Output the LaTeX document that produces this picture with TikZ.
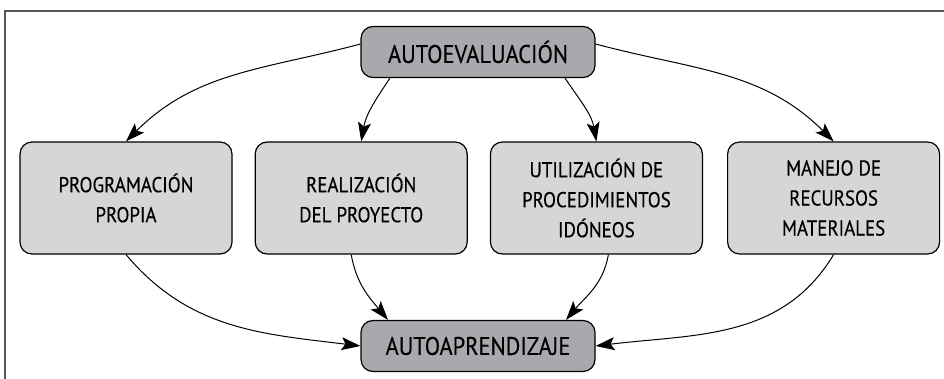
\documentclass[tikz,border=0pt]{standalone}
\usepackage{fontspec}
\setmainfont[FakeStretch=0.88, FakeBold=0.3]{PT Sans}
\usepackage{tikz}
\usetikzlibrary{positioning, arrows.meta}
\definecolor{darkgrey}{RGB}{167,169,172}
\definecolor{lightgrey}{RGB}{213,214,216}
\definecolor{framegrey}{RGB}{85,85,85}

\begin{document}
\begin{tikzpicture}[x=1pt, y=-1pt,
  every node/.style={font=\fontsize{21.5}{30}\selectfont},
  box/.style={rectangle, rounded corners=12pt, draw, line width=1.2pt,
              align=center, minimum width=212pt, minimum height=112pt,
              fill=lightgrey},
  endbox/.style={rectangle, rounded corners=12pt, draw, line width=1.2pt,
                 minimum width=234pt, minimum height=51pt, fill=darkgrey,
                 font=\fontsize{25.5}{30}\selectfont},
  link/.style={-{Stealth[length=19pt, width=13pt, inset=4pt]}, line width=1pt}
]
  \useasboundingbox (0,0) rectangle (944,379);
  \draw[framegrey, line width=1.3pt] (5,379) -- (5,11) -- (944,11);

  \node[endbox] (eval) at (478,52) {AUTOEVALUACIÓN};
  \node[endbox] (apren) at (478,346) {AUTOAPRENDIZAJE};

  \node[box] (prog) at (126,198) {PROGRAMACIÓN \\ PROPIA};
  \node[box, right=22pt of prog] (real) {REALIZACIÓN \\ DEL PROYECTO};
  \node[box, right=22pt of real] (util)
    {UTILIZACIÓN DE \\ PROCEDIMIENTOS \\ IDÓNEOS};
  \node[box, right=24pt of util] (mane)
    {MANEJO DE \\ RECURSOS \\ MATERIALES};

  \draw[link] ([yshift=8pt]eval.west) to[out=195, in=45] (prog.north);
  \draw[link] ([xshift=-88pt]eval.south) to[out=236, in=80] (real.north);
  \draw[link] ([xshift=87pt]eval.south) to[out=-56, in=100] (util.north);
  \draw[link] ([yshift=8pt]eval.east) to[out=-15, in=135] (mane.north);

  \draw[link] (prog.south) to[out=-50, in=173] (apren.west);
  \draw[link] ([xshift=-10pt]real.south) to[out=-80, in=130]
    ([xshift=-90pt]apren.north);
  \draw[link] ([xshift=12pt]util.south) to[out=-100, in=50]
    ([xshift=88pt]apren.north);
  \draw[link] (mane.south) to[out=-121, in=7] (apren.east);
\end{tikzpicture}
\end{document}
